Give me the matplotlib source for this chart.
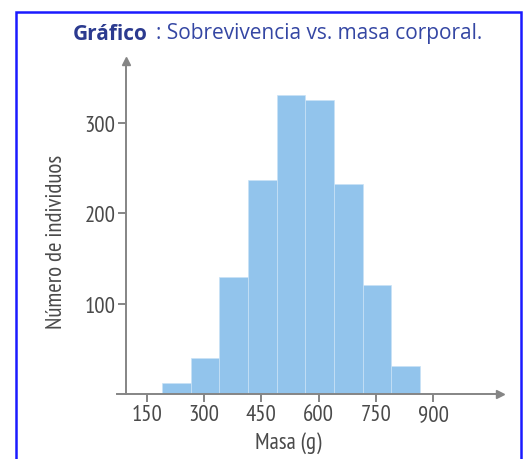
import matplotlib
matplotlib.use("Agg")
import matplotlib.pyplot as plt
from matplotlib.patches import Rectangle

# histograma: masa corporal (g) vs. numero de individuos
bin_edges = [190, 265, 340, 415, 490, 565, 640, 715, 790, 865]
counts = [12, 40, 129, 237, 330, 325, 232, 120, 31]
x_ticks = [150, 300, 450, 600, 750, 900]
y_ticks = [100, 200, 300]

BAR = "#92c4ec"
AXC = "#858585"
TXT = "#4a4a4a"
plt.rcParams["font.family"] = ["PT Sans Narrow", "DejaVu Sans"]
TITLE_FONT = ["Open Sans", "Liberation Sans", "DejaVu Sans"]

W, H = 527, 460
fig = plt.figure(figsize=(W / 100, H / 100), dpi=100)

# ejes en pixeles: x 117..500, y 62..395
ax = fig.add_axes([117 / W, (H - 395) / H, (500 - 117) / W, (395 - 62) / H])
ax.set_xlim(72, 1075)
ax.set_ylim(0, 368)

widths = [b - a for a, b in zip(bin_edges[:-1], bin_edges[1:])]
ax.bar(bin_edges[:-1], counts, width=widths, align="edge",
       color=BAR, edgecolor="#c9e2f6", linewidth=0.5, zorder=2)

for s in ["top", "right"]:
    ax.spines[s].set_visible(False)
ax.spines["left"].set_position(("data", 96))
for s in ["left", "bottom"]:
    ax.spines[s].set_color(AXC)
    ax.spines[s].set_linewidth(1.4)

# flechas en los extremos de los ejes
ax.plot([1075], [0], marker=">", color=AXC, markersize=6, clip_on=False, zorder=3)
ax.plot([96], [368], marker="^", color=AXC, markersize=6, clip_on=False, zorder=3)

ax.set_xticks(x_ticks)
ax.set_yticks(y_ticks)
ax.tick_params(axis="both", color=AXC, width=1.4, length=6, labelcolor=TXT,
               labelsize=16.5, pad=1.5)

ax.set_xlabel("Masa (g)", fontsize=16.5, color=TXT)
ax.xaxis.set_label_coords(288 / W, (H - 432) / H, transform=fig.transFigure)
ax.set_ylabel("Número de individuos", fontsize=16.5, color=TXT)
ax.yaxis.set_label_coords(67 / W, (H - 242) / H, transform=fig.transFigure)

# marco azul
fig.patches.append(Rectangle((16 / W, -0.05), (521 - 16) / W, 1.05 - 13 / H,
                             transform=fig.transFigure, fill=False,
                             edgecolor="#1a1aff", linewidth=1.8))

# titulo
fig.text(73 / W, (H - 34) / H, "Gráfico", fontsize=15, fontweight="bold",
         color="#2b3a8f", family=TITLE_FONT, va="center")
fig.text(156 / W, (H - 34) / H, ": Sobrevivencia vs. masa corporal.", fontsize=15,
         color="#3446a3", family=TITLE_FONT, va="center")

fig.savefig("out.png", dpi=100)
